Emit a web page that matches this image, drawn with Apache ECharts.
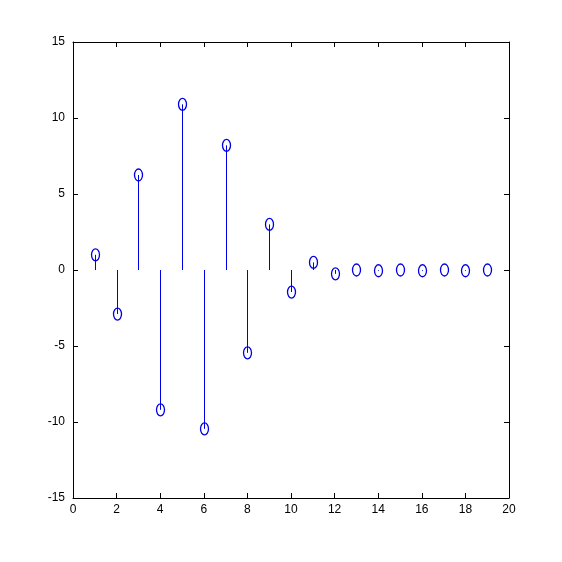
<!DOCTYPE html>
<html><head><meta charset="utf-8">
<script src="https://cdn.jsdelivr.net/npm/echarts@6/dist/echarts.min.js"></script>
<style>html,body{margin:0;padding:0;background:#fff}#c{width:562px;height:562px}</style>
</head><body><div id="c"></div>
<script>
const xValues = [1,2,3,4,5,6,7,8,9,10,11,12,13,14,15,16,17,18,19];
const yValues = [1.0,-2.9,6.25,-9.2,10.9,-10.45,8.2,-5.45,3.0,-1.45,0.5,-0.25,0.0,-0.05,0.0,-0.05,0.0,-0.05,0.0];
const xTicks = [0,2,4,6,8,10,12,14,16,18,20];
const yTicks = [-15,-10,-5,0,5,10,15];

const pts = xValues.map((x,i)=>[x,yValues[i]]);
const axCommon = {
  axisLine:{show:true,onZero:false,lineStyle:{color:'#000',width:1}},
  axisTick:{show:true,inside:true,length:5,lineStyle:{color:'#000'}},
  splitLine:{show:false}
};
const lbl = {color:'#000',fontFamily:'Arial, Liberation Sans, sans-serif',fontSize:12};
const chart = echarts.init(document.getElementById('c'));
chart.setOption({
  backgroundColor:'#fff',
  animation:false,
  grid:{left:73,top:42,right:53,bottom:64},
  xAxis:[
    Object.assign({type:'value',min:0,max:20,interval:2,position:'bottom',
      axisLabel:Object.assign({margin:6,formatter:v=>xTicks.includes(v)?String(v):''},lbl)},axCommon),
    Object.assign({type:'value',min:0,max:20,interval:2,position:'top',axisLabel:{show:false}},axCommon)
  ],
  yAxis:[
    Object.assign({type:'value',min:-15,max:15,interval:5,position:'left',
      axisLabel:Object.assign({margin:8,formatter:v=>yTicks.includes(v)?String(v):''},lbl)},axCommon),
    Object.assign({type:'value',min:-15,max:15,interval:5,position:'right',axisLabel:{show:false}},axCommon)
  ],
  series:[
    {
      type:'custom',
      xAxisIndex:0,yAxisIndex:0,
      data:pts,
      clip:false,
      renderItem:function(params,api){
        const x=api.value(0), y=api.value(1);
        const p0=api.coord([x,0]), p1=api.coord([x,y]);
        const px=Math.round(p0[0])+0.5;
        return {type:'group',children:[
          {type:'line',shape:{x1:px,y1:p0[1],x2:px,y2:p1[1]},
            style:{stroke:'#0000e6',lineWidth:1,fill:null}},
          {type:'ellipse',shape:{cx:px,cy:p1[1],rx:4,ry:6},
            style:{stroke:'#0000e6',lineWidth:1.3,fill:null}}
        ]};
      },
      z:2
    }
  ]
});
</script></body></html>
